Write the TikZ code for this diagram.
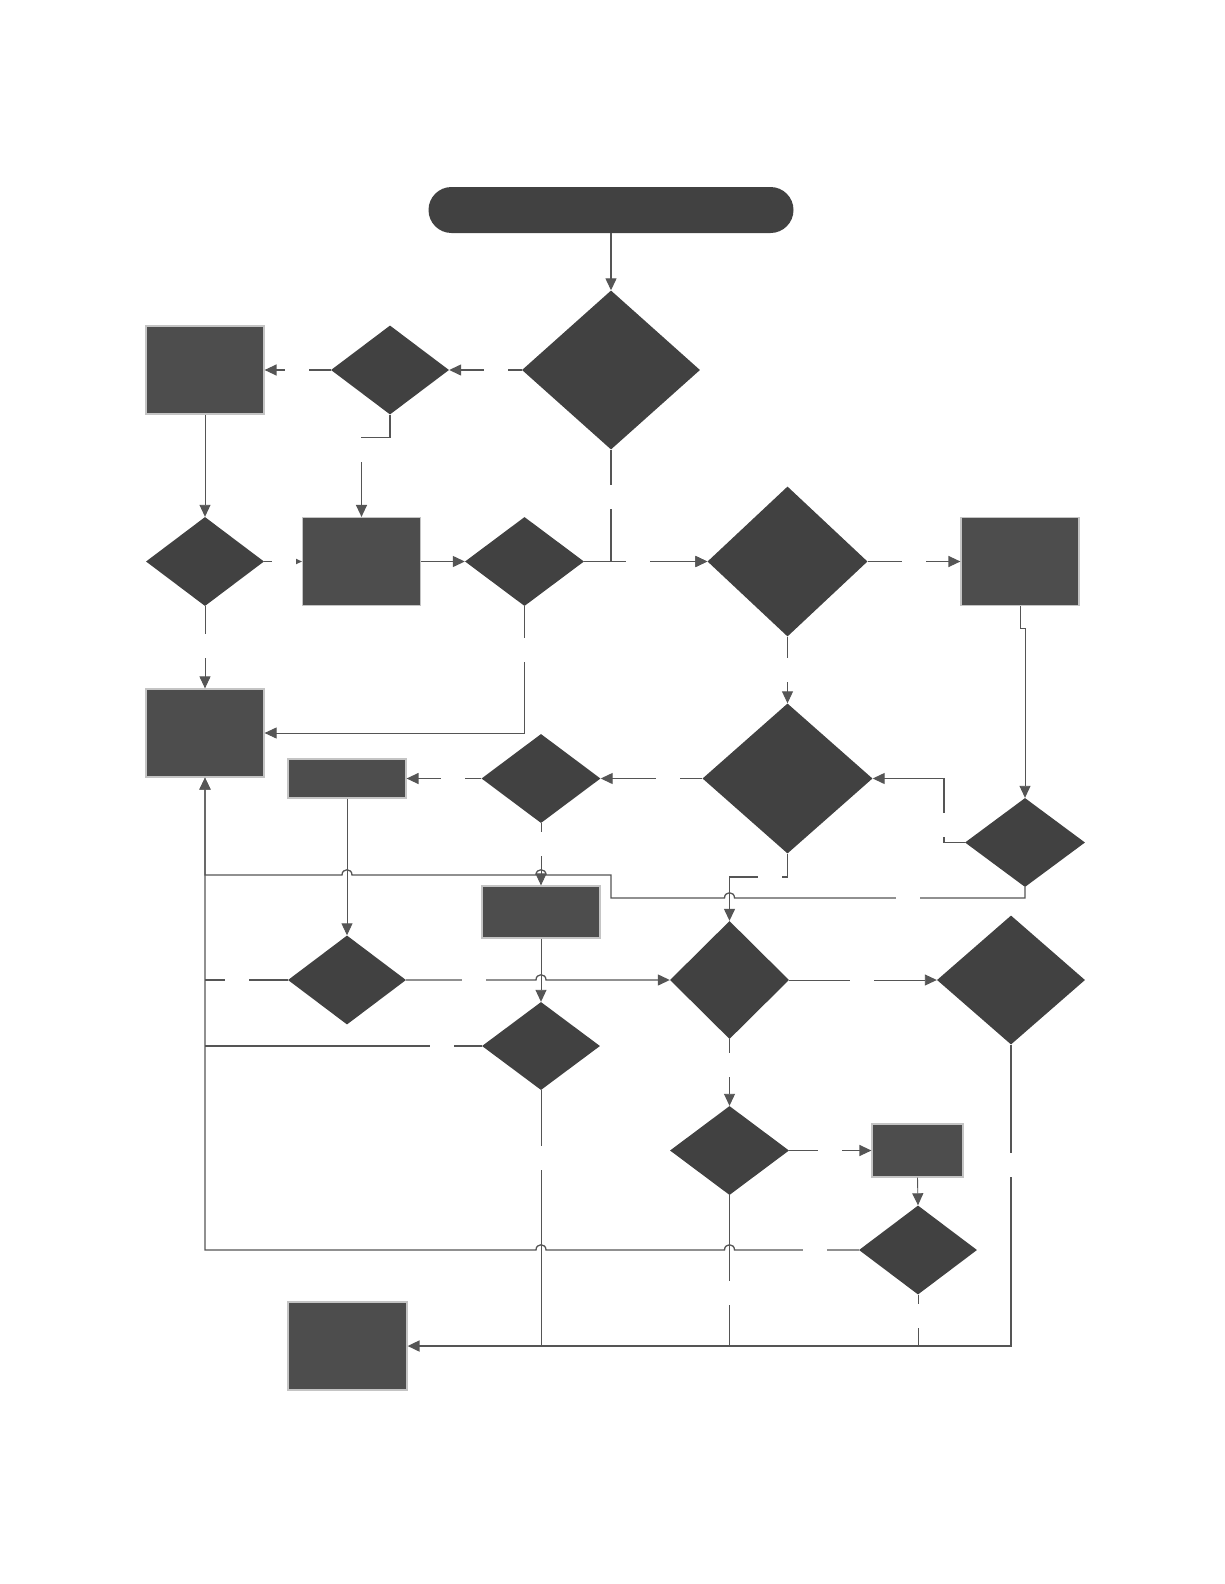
\documentclass[tikz,border=0pt]{standalone}
\usetikzlibrary{shapes.geometric,arrows.meta}
\definecolor{dk}{HTML}{414141}
\definecolor{rk}{HTML}{4D4D4D}
\definecolor{bd}{HTML}{C4C4C4}
\definecolor{ln}{HTML}{555555}
\begin{document}
\begin{tikzpicture}[x=1pt,y=-1pt,
  dia/.style={diamond,fill=dk,draw=none,inner sep=0pt},
  box/.style={rectangle,fill=rk,draw=bd,line width=1.2pt,inner sep=0pt},
  conn/.style={draw=ln,line width=1.3pt},
  thin/.style={draw=ln,line width=0.9pt},
  thick/.style={draw=ln,line width=1.8pt},
  tip/.style={-{Triangle[length=12pt,width=11pt]}},
  gap/.style={fill=white,inner sep=0pt,minimum width=24pt,minimum height=24pt}]
\useasboundingbox (0,0) rectangle (1224,1584);
\fill[white] (0,0) rectangle (1224,1584);

% nodes
\node[fill=dk,rounded corners=23pt,minimum width=365pt,minimum height=46pt,inner sep=0pt] (term) at (611,210) {};
\node[dia,minimum width=178pt,minimum height=159pt] (d1) at (611,370) {};
\node[box,minimum width=118pt,minimum height=88pt] (rA) at (205,370) {};
\node[dia,minimum width=118pt,minimum height=89pt] (d2) at (390,370) {};
\node[dia,minimum width=118pt,minimum height=89pt] (d3) at (205,561.5) {};
\node[box,minimum width=118pt,minimum height=88pt] (rB) at (361.5,561.5) {};
\node[dia,minimum width=119pt,minimum height=89pt] (d4) at (524.5,561.5) {};
\node[dia,minimum width=160pt,minimum height=150pt] (d5) at (787.5,561.5) {};
\node[box,minimum width=118pt,minimum height=88pt] (rC) at (1020,561.5) {};
\node[box,minimum width=118pt,minimum height=88pt] (rD) at (205,733) {};
\node[box,minimum width=118pt,minimum height=39pt] (rE) at (347,778.5) {};
\node[dia,minimum width=119pt,minimum height=89pt] (d7) at (541,778.5) {};
\node[dia,minimum width=170pt,minimum height=150pt] (d6) at (787.5,778.5) {};
\node[dia,minimum width=120pt,minimum height=89pt] (d9) at (1025,842.5) {};
\node[box,minimum width=118pt,minimum height=52pt] (rF) at (541,912) {};
\node[dia,minimum width=118pt,minimum height=89pt] (d10) at (347,980) {};
\node[dia,minimum width=119pt,minimum height=118pt] (d8) at (729.5,980) {};
\node[dia,minimum width=148pt,minimum height=129pt] (d12) at (1011,980) {};
\node[dia,minimum width=118pt,minimum height=88pt] (d11) at (541,1046) {};
\node[dia,minimum width=119pt,minimum height=89pt] (d13) at (729.5,1150.5) {};
\node[box,minimum width=91pt,minimum height=53pt] (rG) at (917.5,1150.5) {};
\node[dia,minimum width=118pt,minimum height=89pt] (d14) at (918,1250) {};
\node[box,minimum width=119pt,minimum height=88pt] (rH) at (347.5,1346) {};

% connectors
\draw[conn,tip] (term.south) -- (d1.north);
\draw[conn,tip] (d1.west) -- (d2.east);
\draw[conn,tip] (d2.west) -- (rA.east);
\draw[conn,tip] (d2.south) -- ++(0,23) -| (rB.north);
\draw[thin,tip] (rA.south) -- (d3.north);
\draw[conn,tip] (d3.east) -- (rB.west);
\draw[conn,tip] (rB.east) -- (d4.west);
\draw[conn,tip] (d4.east) -- (d5.west);
\draw[conn,tip] (d1.south) |- (d5.west);
\draw[conn,tip] (d5.east) -- (rC.west);
\draw[thin,tip] (rC.south) -- ++(0,22) -| (d9.north);
\draw[thin,tip] (d3.south) -- (rD.north);
\draw[thin,tip] (d4.south) |- (rD.east);
\draw[thin,tip] (d5.south) -- (d6.north);
\draw[conn,tip] (d6.west) -- (d7.east);
\draw[conn,tip] (d7.west) -- (rE.east);
\draw[conn,tip] (d9.west) -- (944,842.5) |- (d6.east);
\draw[conn,tip] (d6.south) -- (787.5,877) -| (d8.north);
\draw[conn,tip] (d9.south) -- (1025,898) -- (734.5,898)
   .. controls (734.5,891) and (724.5,891) .. (724.5,898) -- (611,898) -- (611,875)
   -- (546,875) .. controls (546,868) and (536,868) .. (536,875)
   -- (352,875) .. controls (352,868) and (342,868) .. (342,875)
   -- (205,875) -- (rD.south);
\draw[thin,tip] (d7.south) -- (rF.north);
\draw[thin,tip] (rE.south) -- (d10.north);
\draw[conn,tip] (d10.east) -- (536,980) .. controls (536,973) and (546,973) .. (546,980) -- (d8.west);
\draw[conn] (d10.west) -- (205,980);
\draw[thin,tip] (rF.south) -- (d11.north);
\draw[conn] (d11.west) -- (205,1046);
\draw[thin,tip] (d8.east) -- (d12.west);
\draw[thin,tip] (d8.south) -- (d13.north);
\draw[conn,tip] (d13.east) -- (rG.west);
\draw[thin,tip] (rG.south) -- (d14.north);
\draw[conn,tip] (d14.west) -- (734.5,1250)
   .. controls (734.5,1243) and (724.5,1243) .. (724.5,1250) -- (546,1250)
   .. controls (546,1243) and (536,1243) .. (536,1250) -- (205,1250) -- (rD.south);
\draw[thin] (d11.south) -- (541,1346);
\draw[thin] (d13.south) -- (729.5,1346);
\draw[thin] (d14.south) -- (918,1346);
\draw[thick,tip] (d12.south) -- (1011,1346) -- (rH.east);

% label gaps
\foreach \p in {(496,370),(297,370),(362,450),(284,561.5),(611,497),(638,561.5),(914,561.5),
  (205,646),(524.5,650),(787.5,670),(668,778.5),(453,778.5),(944,825),(770,877),(908,898),
  (541,844),(237,980),(474,980),(442,1046),(862,980),(729.5,1065),(830,1150.5),
  (815,1250),(541,1158),(729.5,1293),(918,1316),(1011,1165)}
  \node[gap] at \p {};
\end{tikzpicture}
\end{document}
